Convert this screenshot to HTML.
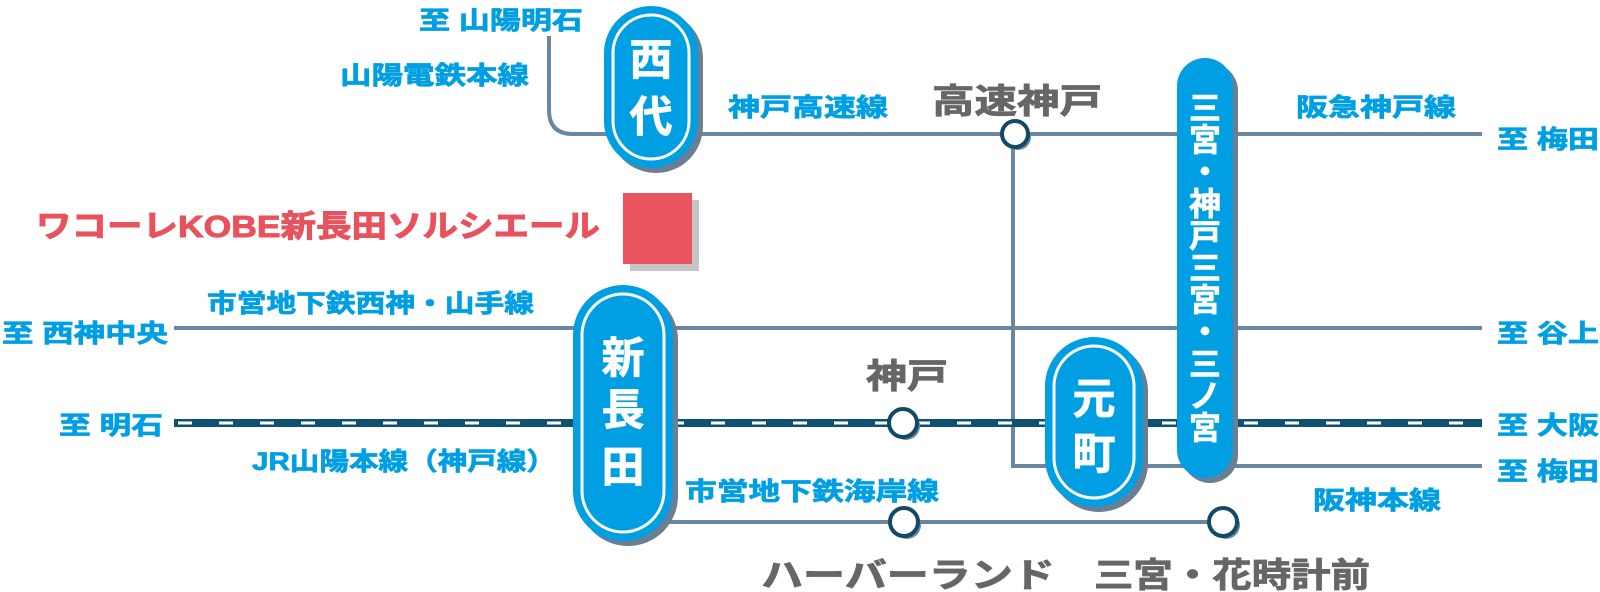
<!DOCTYPE html>
<html><head><meta charset="utf-8">
<style>
html,body{margin:0;padding:0;background:#fff;}
svg{display:block;}
text{font-family:"Liberation Sans","Noto Sans CJK JP",sans-serif;font-weight:bold;}
.b{fill:#009fe4;stroke:#009fe4;stroke-width:0.7px;font-size:25px;}
.g{fill:#666;stroke:#666;stroke-width:0.8px;font-size:34px;}
.w{fill:#fff;stroke:#fff;stroke-width:0.8px;font-size:43px;text-anchor:middle;}
.w2{fill:#fff;stroke:#fff;stroke-width:0.6px;font-size:32px;text-anchor:middle;}
</style></head>
<body>
<svg width="1600" height="592" viewBox="0 0 1600 592" xmlns="http://www.w3.org/2000/svg">
<g fill="none" stroke="#6a86a0" stroke-width="4">
  <path d="M549 36 V110 Q549 134 573 134 H620"/>
  <line x1="690" y1="134" x2="1482" y2="134"/>
  <path d="M1013 134 V466 H1482"/>
  <line x1="174" y1="328" x2="1482" y2="328"/>
  <line x1="660" y1="522" x2="1223" y2="522"/>
</g>
<line x1="174" y1="423" x2="1482" y2="423" stroke="#0f5170" stroke-width="8"/>
<line x1="174" y1="423" x2="1482" y2="423" stroke="#fff" stroke-width="3" stroke-dasharray="14 27" stroke-dashoffset="-4"/>

<g stroke="#124a66" stroke-width="4" fill="#fff">
  <circle cx="1018" cy="137" r="13" fill="#6a86a0" stroke="none"/>
  <circle cx="1015" cy="134" r="13"/>
  <circle cx="906" cy="426" r="14" fill="#6a86a0" stroke="none"/>
  <circle cx="903" cy="423" r="14"/>
  <circle cx="907" cy="525" r="14" fill="#6a86a0" stroke="none"/>
  <circle cx="904" cy="522" r="14"/>
  <circle cx="1226" cy="525" r="14" fill="#6a86a0" stroke="none"/>
  <circle cx="1223" cy="522" r="14"/>
</g>

<rect x="609" y="11" width="94" height="162" rx="47" fill="#6a7f94"/>
<rect x="604" y="6" width="94" height="162" rx="47" fill="#009fe4"/>
<rect x="613" y="15" width="76" height="144" rx="38" fill="none" stroke="#fff" stroke-width="3"/>
<text class="w" x="651" y="75">西</text>
<text class="w" x="651" y="132">代</text>

<rect x="578" y="290" width="100" height="256" rx="50" fill="#6a7f94"/>
<rect x="573" y="285" width="100" height="256" rx="50" fill="#009fe4"/>
<rect x="582" y="294" width="82" height="238" rx="41" fill="none" stroke="#fff" stroke-width="3"/>
<text class="w" x="623" y="373">新</text>
<text class="w" x="623" y="425">長</text>
<text class="w" x="623" y="482">田</text>

<rect x="1050" y="342" width="98" height="170" rx="49" fill="#6a7f94"/>
<rect x="1045" y="337" width="98" height="170" rx="49" fill="#009fe4"/>
<rect x="1054" y="346" width="80" height="152" rx="40" fill="none" stroke="#fff" stroke-width="3"/>
<text class="w" x="1094" y="414">元</text>
<text class="w" x="1094" y="469">町</text>

<rect x="1182" y="63" width="56" height="420" rx="28" fill="#6a7f94"/>
<rect x="1177" y="58" width="56" height="420" rx="28" fill="#009fe4"/>
<text class="w2" x="1205" y="119">三</text>
<text class="w2" x="1205" y="151">宮</text>
<text class="w2" x="1205" y="183">・</text>
<text class="w2" x="1205" y="215">神</text>
<text class="w2" x="1205" y="247">戸</text>
<text class="w2" x="1205" y="279">三</text>
<text class="w2" x="1205" y="311">宮</text>
<text class="w2" x="1205" y="343">・</text>
<text class="w2" x="1205" y="375">三</text>
<text class="w2" x="1205" y="407">ノ</text>
<text class="w2" x="1205" y="439">宮</text>

<rect x="630" y="200" width="69" height="71" fill="#c6c6c6"/>
<rect x="623" y="193" width="69" height="71" fill="#e9545f"/>

<text class="b" x="419" y="29" textLength="164" lengthAdjust="spacingAndGlyphs">至 山陽明石</text>
<text class="b" x="340" y="84" textLength="189" lengthAdjust="spacingAndGlyphs">山陽電鉄本線</text>
<text class="b" x="728" y="116" textLength="160" lengthAdjust="spacingAndGlyphs">神戸高速線</text>
<text class="g" x="932" y="113" textLength="170" lengthAdjust="spacingAndGlyphs">高速神戸</text>
<text class="b" x="1296" y="116" textLength="160" lengthAdjust="spacingAndGlyphs">阪急神戸線</text>
<text class="b" x="1497" y="148" textLength="102" lengthAdjust="spacingAndGlyphs">至 梅田</text>
<text x="36" y="237" fill="#e9525d" stroke="#e9525d" stroke-width="0.9" font-size="31" textLength="564" lengthAdjust="spacingAndGlyphs">ワコーレKOBE新長田ソルシエール</text>
<text class="b" x="207" y="312" textLength="327" lengthAdjust="spacingAndGlyphs">市営地下鉄西神・山手線</text>
<text class="b" x="2" y="342" textLength="166" lengthAdjust="spacingAndGlyphs">至 西神中央</text>
<text class="b" x="1497" y="342" textLength="102" lengthAdjust="spacingAndGlyphs">至 谷上</text>
<text class="g" x="866" y="388" textLength="82" lengthAdjust="spacingAndGlyphs">神戸</text>
<text class="b" x="59" y="434" textLength="104" lengthAdjust="spacingAndGlyphs">至 明石</text>
<text class="b" x="1497" y="434" textLength="102" lengthAdjust="spacingAndGlyphs">至 大阪</text>
<text class="b" x="252" y="470" textLength="304" lengthAdjust="spacingAndGlyphs">JR山陽本線（神戸線）</text>
<text class="b" x="1497" y="480" textLength="102" lengthAdjust="spacingAndGlyphs">至 梅田</text>
<text class="b" x="685" y="500" textLength="254" lengthAdjust="spacingAndGlyphs">市営地下鉄海岸線</text>
<text class="b" x="1313" y="509" textLength="128" lengthAdjust="spacingAndGlyphs">阪神本線</text>
<text class="g" x="761" y="587" font-size="37" textLength="294" lengthAdjust="spacingAndGlyphs">ハーバーランド</text>
<text class="g" x="1094" y="587" font-size="37" textLength="276" lengthAdjust="spacingAndGlyphs">三宮・花時計前</text>
</svg>
</body></html>
